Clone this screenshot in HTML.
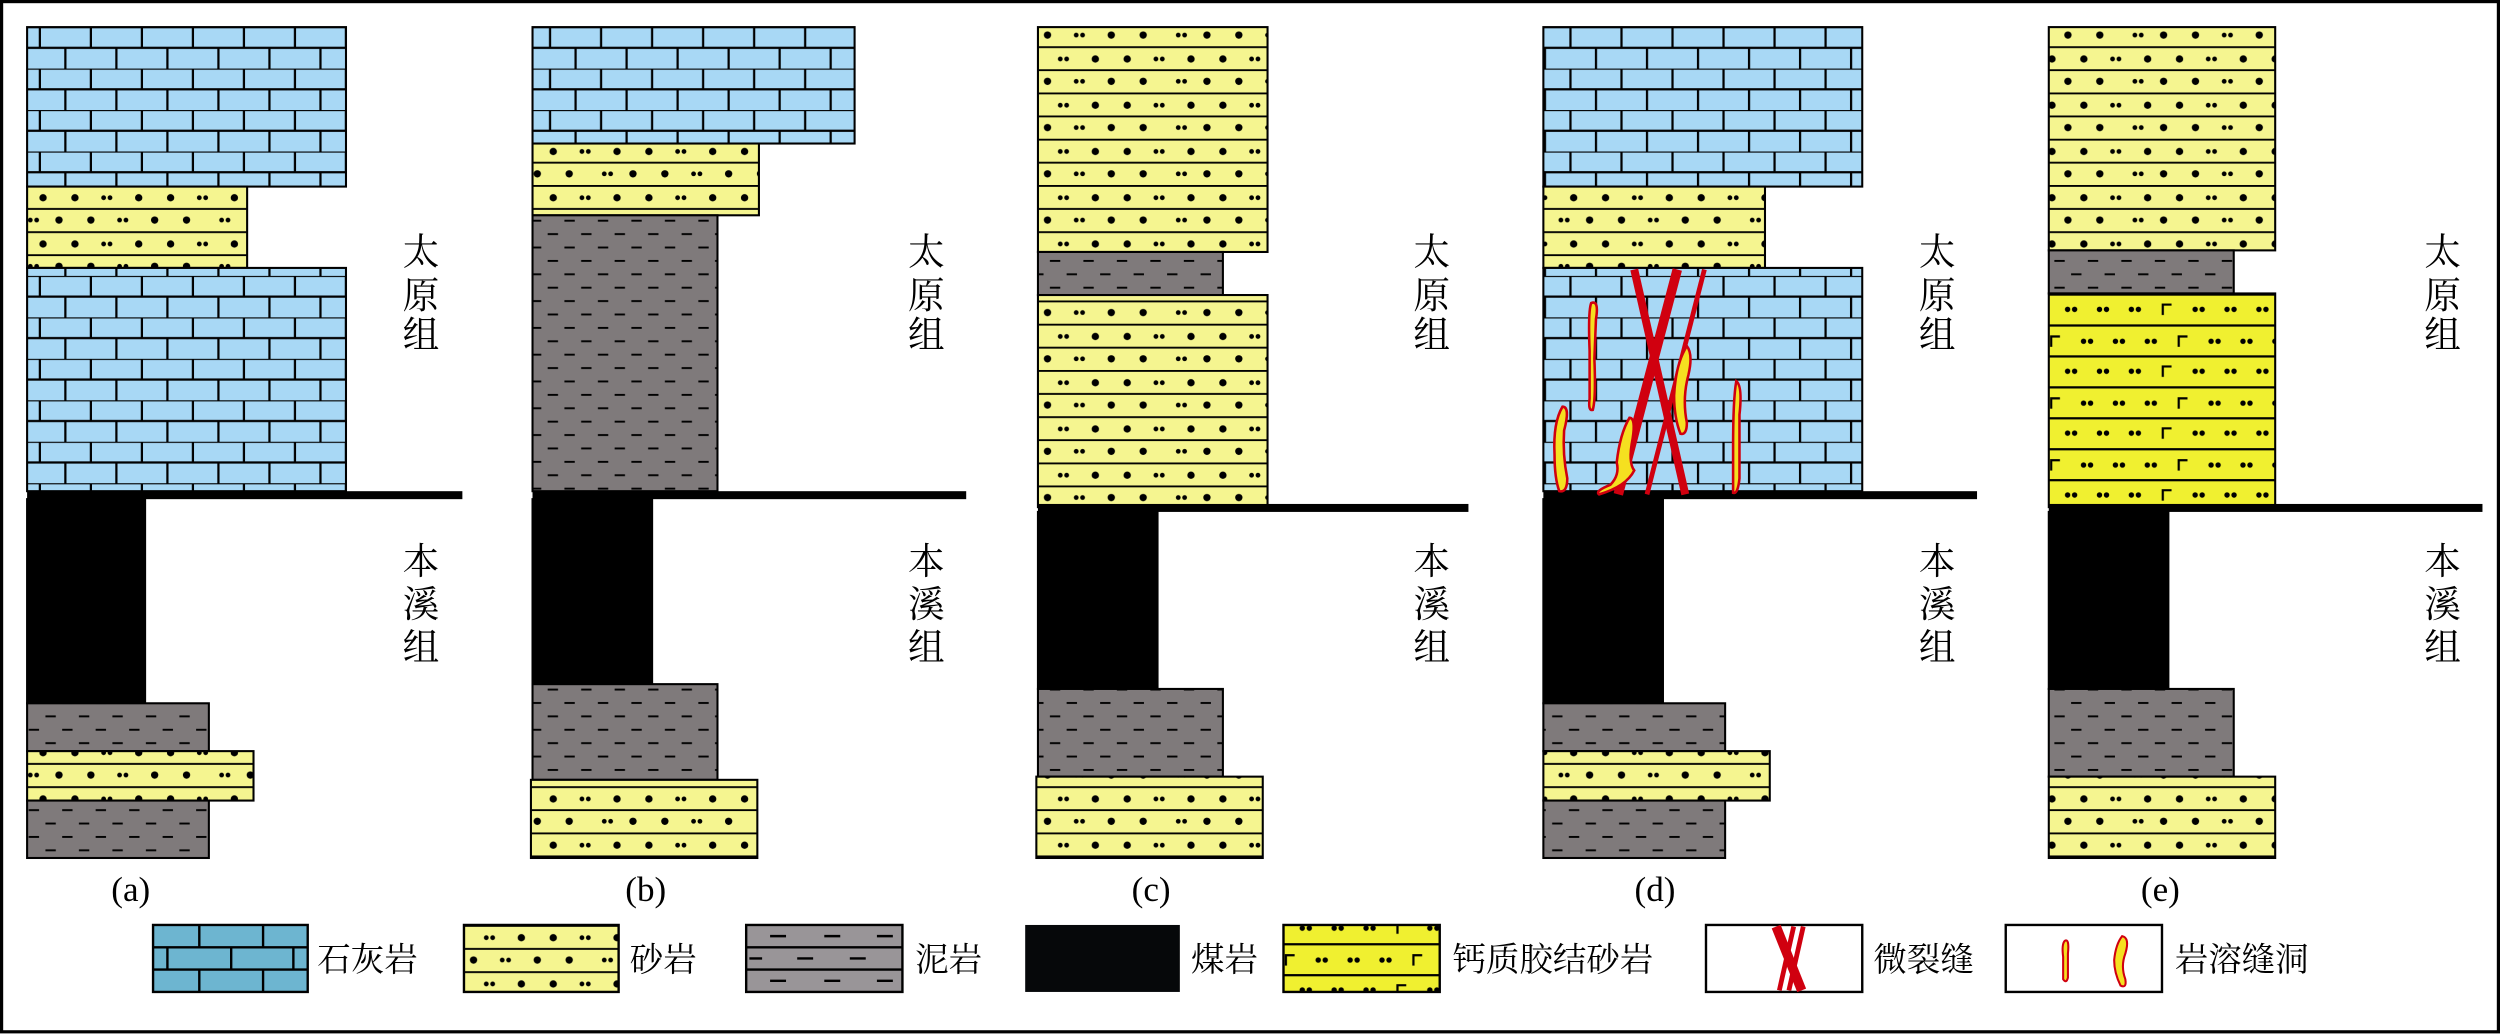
<!DOCTYPE html>
<html><head><meta charset="utf-8"><style>html,body{margin:0;padding:0;background:#fff}svg{display:block}</style></head>
<body>
<svg width="2500" height="1035" viewBox="0 0 1568 649" preserveAspectRatio="none" xmlns="http://www.w3.org/2000/svg">
<defs>
<pattern id="brick" patternUnits="userSpaceOnUse" x="17" y="17" width="32" height="26">
<rect width="32" height="26" fill="#a8d8f5"/>
<g stroke="#000" stroke-width="1.4">
<line x1="0" y1="0" x2="32" y2="0"/><line x1="0" y1="13" x2="32" y2="13"/>
<line x1="8" y1="0" x2="8" y2="13"/><line x1="24" y1="13" x2="24" y2="26"/>
</g></pattern>
<pattern id="sand" patternUnits="userSpaceOnUse" x="17" y="0" width="120" height="29">
<rect width="120" height="29" fill="#f5f590"/>
<g stroke="#000" stroke-width="1.2"><line x1="0" y1="0.6" x2="120" y2="0.6"/><line x1="0" y1="15" x2="120" y2="15"/></g>
<g fill="#000">
<circle cx="10" cy="8" r="2.3"/><circle cx="30" cy="8" r="2.3"/><circle cx="48" cy="8" r="1.5"/><circle cx="52" cy="8" r="1.5"/><circle cx="70" cy="8" r="2.3"/><circle cx="90" cy="8" r="2.3"/><circle cx="108" cy="8" r="1.5"/><circle cx="112" cy="8" r="1.5"/>
<circle cx="2" cy="22" r="1.5"/><circle cx="6" cy="22" r="1.5"/><circle cx="20" cy="22" r="2.3"/><circle cx="40" cy="22" r="2.3"/><circle cx="58" cy="22" r="1.5"/><circle cx="62" cy="22" r="1.5"/><circle cx="80" cy="22" r="2.3"/><circle cx="100" cy="22" r="2.3"/>
</g></pattern>
<pattern id="mud" patternUnits="userSpaceOnUse" x="17" y="0" width="21" height="16.8">
<rect width="21" height="16.8" fill="#7f7a7b"/>
<g stroke="#000" stroke-width="1.2">
<line x1="1" y1="4" x2="7.5" y2="4"/>
<line x1="11.5" y1="12.4" x2="18" y2="12.4"/>
</g></pattern>
<pattern id="calc" patternUnits="userSpaceOnUse" x="1289" y="184" width="80" height="38.8">
<rect width="80" height="38.8" fill="#f0f030"/>
<g stroke="#000" stroke-width="1.4"><line x1="0" y1="0.7" x2="80" y2="0.7"/><line x1="0" y1="20.1" x2="80" y2="20.1"/></g>
<g fill="#000">
<circle cx="7.8" cy="10" r="1.7"/><circle cx="12.2" cy="10" r="1.7"/>
<circle cx="27.8" cy="10" r="1.7"/><circle cx="32.2" cy="10" r="1.7"/>
<circle cx="47.8" cy="10" r="1.7"/><circle cx="52.2" cy="10" r="1.7"/>
<circle cx="17.8" cy="30" r="1.7"/><circle cx="22.2" cy="30" r="1.7"/>
<circle cx="37.8" cy="30" r="1.7"/><circle cx="42.2" cy="30" r="1.7"/>
<circle cx="57.8" cy="30" r="1.7"/><circle cx="62.2" cy="30" r="1.7"/>
</g>
<g stroke="#000" stroke-width="1.4" fill="none">
<path d="M67.5 13.5 V7 H73"/><path d="M77.5 33.5 V27 H83"/><path d="M-2.5 33.5 V27 H3"/>
</g></pattern>
</defs>
<rect x="1" y="1" width="1566" height="646" fill="#fff" stroke="#000" stroke-width="2"/>

<g stroke="#000" stroke-width="1.3">
<rect x="17" y="17" width="200" height="100" fill="url(#brick)"/>
<rect x="17" y="117" width="138" height="51" fill="url(#sand)"/>
<rect x="17" y="168" width="200" height="140" fill="url(#brick)"/>
<rect x="17" y="313" width="74" height="128" fill="#000"/>
<rect x="17" y="441" width="114" height="30" fill="url(#mud)"/>
<rect x="17" y="471" width="142" height="31" fill="url(#sand)"/>
<rect x="17" y="502" width="114" height="36" fill="url(#mud)"/>
<rect x="334" y="17" width="202" height="73" fill="url(#brick)"/>
<rect x="334" y="90" width="142" height="45" fill="url(#sand)"/>
<rect x="334" y="135" width="116" height="173" fill="url(#mud)"/>
<rect x="334" y="313" width="75" height="116" fill="#000"/>
<rect x="334" y="429" width="116" height="60" fill="url(#mud)"/>
<rect x="333" y="489" width="142" height="49" fill="url(#sand)"/>
<rect x="651" y="17" width="144" height="141" fill="url(#sand)"/>
<rect x="651" y="158" width="116" height="27" fill="url(#mud)"/>
<rect x="651" y="185" width="144" height="133" fill="url(#sand)"/>
<rect x="651" y="321" width="75" height="111" fill="#000"/>
<rect x="651" y="432" width="116" height="55" fill="url(#mud)"/>
<rect x="650" y="487" width="142" height="51" fill="url(#sand)"/>
<rect x="968" y="17" width="200" height="100" fill="url(#brick)"/>
<rect x="968" y="117" width="139" height="51" fill="url(#sand)"/>
<rect x="968" y="168" width="200" height="140" fill="url(#brick)"/>
<rect x="968" y="313" width="75" height="128" fill="#000"/>
<rect x="968" y="441" width="114" height="30" fill="url(#mud)"/>
<rect x="968" y="471" width="142" height="31" fill="url(#sand)"/>
<rect x="968" y="502" width="114" height="36" fill="url(#mud)"/>
<rect x="1285" y="17" width="142" height="140" fill="url(#sand)"/>
<rect x="1285" y="157" width="116" height="27" fill="url(#mud)"/>
<rect x="1285" y="184" width="142" height="134" fill="url(#calc)"/>
<rect x="1285" y="321" width="75" height="111" fill="#000"/>
<rect x="1285" y="432" width="116" height="55" fill="url(#mud)"/>
<rect x="1285" y="487" width="142" height="51" fill="url(#sand)"/>
</g>
<g fill="#000">
<rect x="17" y="308" width="273" height="5"/>
<rect x="334" y="308" width="272" height="5"/>
<rect x="651" y="316" width="270" height="5"/>
<rect x="968" y="308" width="272" height="5"/>
<rect x="1285" y="316" width="272" height="5"/>
</g>
<g stroke="#d0000f" stroke-linecap="butt">
<line x1="1025" y1="169" x2="1057" y2="310" stroke-width="5"/>
<line x1="1052" y1="169" x2="1015" y2="310" stroke-width="6"/>
<line x1="1069" y1="169" x2="1033" y2="310" stroke-width="3"/>
</g>
<g fill="#f5e020" stroke="#d0000f" stroke-width="1.6">
<path d="M998 190 Q1003 188 1001 200 L1000 225 Q1001 250 999 257 Q996 258 997 250 L997 220 Q996 195 998 190Z"/>
<path d="M980 255 Q985 255 981 270 Q980 285 983 300 Q983 309 978 308 Q975 300 975 285 Q974 265 980 255Z"/>
<path d="M1022 262 Q1026 262 1024 275 Q1021 290 1025 295 Q1020 305 1003 310 Q1000 308 1010 304 Q1016 298 1014 290 Q1016 272 1022 262Z"/>
<path d="M1058 217 Q1062 222 1059 235 Q1055 250 1058 265 Q1058 273 1054 272 Q1050 262 1050 248 Q1051 228 1058 217Z"/>
<path d="M1089 239 Q1093 242 1091 260 L1091 300 Q1090 310 1087 309 L1087 280 Q1087 250 1089 239Z"/>
</g>

<g font-family="'Liberation Serif','Noto Serif CJK SC',serif" font-size="23" fill="#000" text-anchor="middle">
<text x="264" y="166">太</text><text x="264" y="193">原</text><text x="264" y="218">组</text>
<text x="264" y="360">本</text><text x="264" y="387">溪</text><text x="264" y="414">组</text>
<text x="581" y="166">太</text><text x="581" y="193">原</text><text x="581" y="218">组</text>
<text x="581" y="360">本</text><text x="581" y="387">溪</text><text x="581" y="414">组</text>
<text x="898" y="166">太</text><text x="898" y="193">原</text><text x="898" y="218">组</text>
<text x="898" y="360">本</text><text x="898" y="387">溪</text><text x="898" y="414">组</text>
<text x="1215" y="166">太</text><text x="1215" y="193">原</text><text x="1215" y="218">组</text>
<text x="1215" y="360">本</text><text x="1215" y="387">溪</text><text x="1215" y="414">组</text>
<text x="1532" y="166">太</text><text x="1532" y="193">原</text><text x="1532" y="218">组</text>
<text x="1532" y="360">本</text><text x="1532" y="387">溪</text><text x="1532" y="414">组</text>
</g>
<g font-family="'Liberation Serif',serif" font-size="22" fill="#000" text-anchor="middle">
<text x="82" y="565">(a)</text><text x="405" y="565">(b)</text><text x="722" y="565">(c)</text><text x="1038" y="565">(d)</text><text x="1355" y="565">(e)</text>
</g>

<g stroke="#000" stroke-width="1.5">
<g>
<rect x="96" y="580" width="97" height="42" fill="#6db5d0"/>
<line x1="96" y1="594" x2="193" y2="594"/><line x1="96" y1="608" x2="193" y2="608"/>
<line x1="125" y1="580" x2="125" y2="594"/><line x1="165" y1="580" x2="165" y2="594"/>
<line x1="105" y1="594" x2="105" y2="608"/><line x1="145" y1="594" x2="145" y2="608"/><line x1="184" y1="594" x2="184" y2="608"/>
<line x1="125" y1="608" x2="125" y2="622"/><line x1="165" y1="608" x2="165" y2="622"/>
</g>
<rect x="291" y="580" width="97" height="42" fill="url(#sand)"/>
<g>
<rect x="468" y="580" width="98" height="42" fill="#999598"/>
<line x1="468" y1="594" x2="566" y2="594"/><line x1="468" y1="608" x2="566" y2="608"/>
<line x1="483" y1="587" x2="493" y2="587"/><line x1="517" y1="587" x2="527" y2="587"/><line x1="550" y1="587" x2="560" y2="587"/>
<line x1="470" y1="601" x2="478" y2="601"/><line x1="500" y1="601" x2="510" y2="601"/><line x1="533" y1="601" x2="543" y2="601"/>
<line x1="483" y1="615" x2="493" y2="615"/><line x1="517" y1="615" x2="527" y2="615"/><line x1="550" y1="615" x2="560" y2="615"/>
</g>
<rect x="643" y="580" width="97" height="42" fill="#06080a" stroke="none"/>
<rect x="805" y="580" width="98" height="42" fill="url(#calc)"/>
<rect x="1070" y="580" width="98" height="42" fill="#fff"/>
<rect x="1258" y="580" width="98" height="42" fill="#fff"/>
</g>
<g stroke="#d0000f">
<line x1="1114" y1="581" x2="1130" y2="621" stroke-width="6"/>
<line x1="1125" y1="581" x2="1116" y2="621" stroke-width="3"/>
<line x1="1131" y1="581" x2="1122" y2="621" stroke-width="3"/>
</g>
<g fill="#f5e020" stroke="#d0000f" stroke-width="1.3">
<path d="M1295 590 Q1298 588 1297 598 L1297 613 Q1296 617 1294 614 L1294 600 Q1293 592 1295 590Z"/>
<path d="M1331 587 Q1336 588 1333 598 Q1330 606 1333 614 Q1334 620 1330 618 Q1326 610 1326 602 Q1327 592 1331 587Z"/>
</g>
<g font-family="'Liberation Serif','Noto Serif CJK SC',serif" font-size="21" fill="#000">
<text x="199" y="609">石灰岩</text>
<text x="395" y="609">砂岩</text>
<text x="574" y="609">泥岩</text>
<text x="747" y="609">煤岩</text>
<text x="911" y="609">钙质胶结砂岩</text>
<text x="1175" y="609">微裂缝</text>
<text x="1364" y="609">岩溶缝洞</text>
</g>
</svg>
</body></html>
